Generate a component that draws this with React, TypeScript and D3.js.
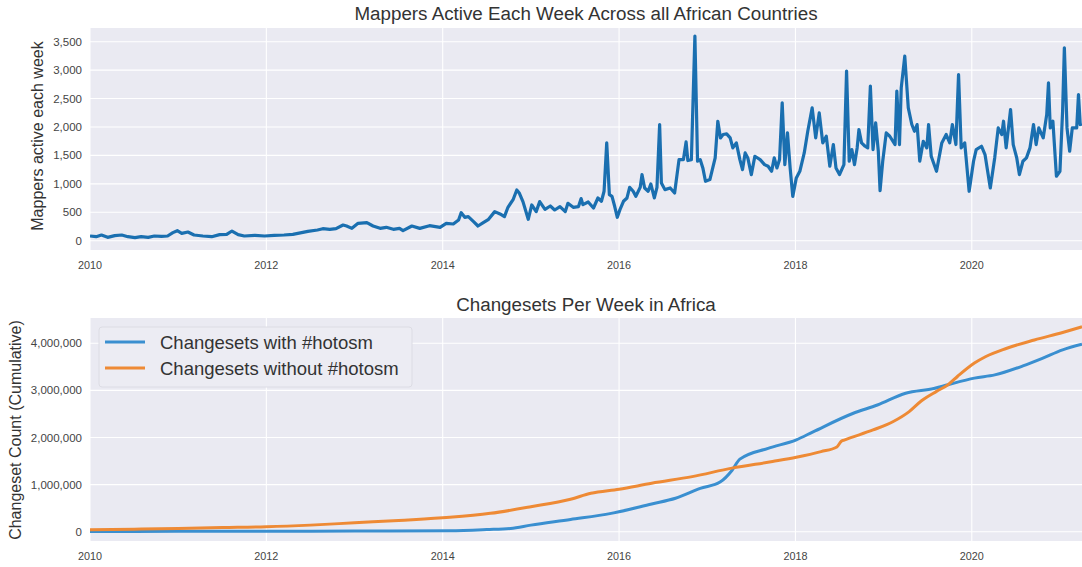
import React, { useEffect, useRef } from "react";
import * as d3 from "d3";

// weekly active mappers (decimal year, mappers)
const mappersActive: [number, number][] = [
  [2010.0, 82], [2010.07, 70], [2010.13, 100], [2010.2, 59], [2010.28, 88], [2010.36, 100],
  [2010.43, 70], [2010.51, 53], [2010.58, 70], [2010.66, 59], [2010.73, 82], [2010.81, 76],
  [2010.88, 82], [2010.94, 141], [2010.99, 176], [2011.04, 129], [2011.11, 153], [2011.18, 100],
  [2011.28, 82], [2011.38, 70], [2011.47, 106], [2011.55, 111], [2011.61, 170], [2011.68, 106],
  [2011.75, 82], [2011.87, 94], [2011.98, 82], [2012.09, 94], [2012.2, 100], [2012.3, 111],
  [2012.4, 141], [2012.47, 164], [2012.58, 188], [2012.64, 211], [2012.72, 200], [2012.79, 211],
  [2012.87, 276], [2012.91, 258], [2012.97, 217], [2013.04, 305], [2013.14, 317], [2013.21, 258],
  [2013.29, 217], [2013.36, 235], [2013.44, 200], [2013.51, 217], [2013.55, 176], [2013.65, 258],
  [2013.74, 217], [2013.85, 264], [2013.97, 235], [2014.04, 305], [2014.12, 293], [2014.18, 364],
  [2014.21, 493], [2014.25, 411], [2014.29, 423], [2014.35, 335], [2014.4, 258], [2014.46, 317],
  [2014.52, 376], [2014.59, 511], [2014.65, 470], [2014.7, 423], [2014.74, 587], [2014.8, 728],
  [2014.84, 892], [2014.87, 834], [2014.91, 687], [2014.97, 376], [2015.01, 628], [2015.06, 511],
  [2015.1, 687], [2015.16, 552], [2015.22, 610], [2015.27, 540], [2015.33, 599], [2015.39, 511],
  [2015.42, 657], [2015.48, 587], [2015.54, 600], [2015.57, 740], [2015.59, 634], [2015.65, 681],
  [2015.71, 575], [2015.76, 751], [2015.8, 693], [2015.83, 869], [2015.86, 1720], [2015.89, 810],
  [2015.92, 780], [2015.95, 605], [2015.98, 411], [2016.01, 546], [2016.05, 693], [2016.09, 751],
  [2016.12, 939], [2016.16, 869], [2016.19, 780], [2016.24, 939], [2016.26, 1162], [2016.29, 927],
  [2016.33, 869], [2016.36, 998], [2016.4, 751], [2016.43, 939], [2016.46, 2043], [2016.48, 1016],
  [2016.52, 898], [2016.58, 927], [2016.63, 839], [2016.68, 1426], [2016.73, 1426], [2016.76, 1738],
  [2016.78, 1409], [2016.82, 1426], [2016.86, 3598], [2016.89, 1397], [2016.92, 1426], [2016.95, 1280],
  [2016.98, 1045], [2017.03, 1074], [2017.09, 1456], [2017.12, 2101], [2017.15, 1808], [2017.18, 1867],
  [2017.22, 1878], [2017.26, 1808], [2017.29, 1632], [2017.33, 1720], [2017.37, 1426], [2017.4, 1250],
  [2017.43, 1544], [2017.46, 1456], [2017.5, 1162], [2017.54, 1485], [2017.6, 1426], [2017.65, 1338],
  [2017.69, 1309], [2017.73, 1221], [2017.76, 1456], [2017.79, 1280], [2017.82, 1426], [2017.85, 2424],
  [2017.88, 1338], [2017.91, 1896], [2017.94, 1280], [2017.97, 780], [2018.01, 1104], [2018.05, 1221],
  [2018.1, 1544], [2018.14, 1925], [2018.19, 2336], [2018.23, 1808], [2018.27, 2248], [2018.31, 1720],
  [2018.35, 1837], [2018.39, 1309], [2018.43, 1691], [2018.46, 1280], [2018.5, 1162], [2018.55, 1338],
  [2018.58, 2982], [2018.61, 1397], [2018.64, 1603], [2018.67, 1338], [2018.7, 1632], [2018.72, 1955],
  [2018.75, 1720], [2018.79, 1661], [2018.82, 1632], [2018.85, 2718], [2018.88, 1603], [2018.91, 2072],
  [2018.94, 1573], [2018.96, 880], [2018.99, 1397], [2019.03, 1896], [2019.07, 1837], [2019.13, 1691],
  [2019.15, 2630], [2019.18, 1691], [2019.2, 2688], [2019.24, 3246], [2019.28, 2336], [2019.32, 2043],
  [2019.35, 1925], [2019.38, 2043], [2019.41, 1397], [2019.45, 1749], [2019.49, 1632], [2019.51, 2043],
  [2019.54, 1485], [2019.6, 1221], [2019.66, 1720], [2019.71, 1867], [2019.75, 1720], [2019.78, 2043],
  [2019.82, 1691], [2019.85, 2923], [2019.88, 1632], [2019.92, 1720], [2019.97, 869], [2020.02, 1397],
  [2020.05, 1603], [2020.11, 1661], [2020.15, 1515], [2020.21, 927], [2020.26, 1456], [2020.3, 1984],
  [2020.34, 1867], [2020.36, 2101], [2020.39, 1632], [2020.44, 2307], [2020.47, 1691], [2020.51, 1456],
  [2020.54, 1162], [2020.58, 1397], [2020.62, 1456], [2020.66, 1632], [2020.7, 2043], [2020.73, 1691],
  [2020.76, 1984], [2020.81, 1808], [2020.85, 2219], [2020.87, 2776], [2020.89, 1984], [2020.92, 2101],
  [2020.96, 1133], [2021.0, 1221], [2021.03, 2278], [2021.05, 3393], [2021.08, 1984], [2021.11, 1573],
  [2021.14, 1984], [2021.19, 1984], [2021.21, 2571], [2021.23, 2043], [2021.25, 2050],
];

// cumulative changesets (decimal year, count)
const withHotosm: [number, number][] = [
  [2010.0, 5000], [2011.0, 8000], [2012.0, 10000], [2013.0, 15000], [2014.08, 20000],
  [2014.5, 45000], [2014.77, 70000], [2015.0, 140000], [2015.45, 260000], [2015.91, 390000],
  [2016.37, 590000], [2016.64, 710000], [2016.92, 920000], [2017.15, 1060000], [2017.28, 1300000],
  [2017.37, 1540000], [2017.69, 1770000], [2018.01, 1950000], [2018.2, 2120000], [2018.65, 2510000],
  [2018.93, 2690000], [2019.25, 2940000], [2019.57, 3040000], [2019.73, 3120000], [2020.03, 3260000],
  [2020.26, 3330000], [2020.58, 3520000], [2020.8, 3680000], [2021.03, 3860000], [2021.25, 3980000],
];

const withoutHotosm: [number, number][] = [
  [2010.0, 40000], [2010.5, 55000], [2011.0, 70000], [2011.5, 88000], [2012.0, 105000],
  [2012.5, 140000], [2013.0, 190000], [2013.5, 240000], [2014.08, 305000], [2014.54, 390000],
  [2015.0, 530000], [2015.45, 690000], [2015.68, 815000], [2016.0, 900000], [2016.37, 1030000],
  [2016.83, 1170000], [2017.28, 1350000], [2017.74, 1490000], [2018.01, 1580000], [2018.29, 1700000],
  [2018.47, 1800000], [2018.52, 1920000], [2018.56, 1950000], [2018.88, 2160000], [2019.11, 2340000],
  [2019.29, 2550000], [2019.43, 2780000], [2019.6, 2980000], [2019.73, 3120000], [2019.84, 3300000],
  [2020.03, 3580000], [2020.16, 3720000], [2020.39, 3890000], [2020.71, 4070000], [2021.03, 4230000],
  [2021.25, 4350000],
];

const yearTicks = [2010, 2012, 2014, 2016, 2018, 2020];
const mapperTicks = [0, 500, 1000, 1500, 2000, 2500, 3000, 3500];
const changesetTicks = [0, 1000000, 2000000, 3000000, 4000000];
const legendLabels = ["Changesets with #hotosm", "Changesets without #hotosm"];

const FONT = "'Liberation Sans', Arial, sans-serif";

const App = () => {
  const ref = useRef<SVGSVGElement>(null);

  useEffect(() => {
    const svg = d3.select(ref.current);
    svg.selectAll("*").remove();

    const left = 90, right = 1082;
    const x = d3.scaleLinear().domain([2010, 2021.25]).range([left, right]);

    const panel = (top: number, bottom: number, yDomain: [number, number], ticks: number[], id: string) => {
      const y = d3.scaleLinear().domain(yDomain).range([bottom, top]);
      const g = svg.append("g");
      g.append("rect")
        .attr("x", left).attr("y", top)
        .attr("width", right - left).attr("height", bottom - top)
        .attr("fill", "#eaeaf2");
      g.append("clipPath").attr("id", id)
        .append("rect").attr("x", left).attr("y", top)
        .attr("width", right - left).attr("height", bottom - top);
      // grid
      g.selectAll(".hg").data(ticks).enter().append("line")
        .attr("x1", left).attr("x2", right)
        .attr("y1", d => y(d)).attr("y2", d => y(d))
        .attr("stroke", "#fff").attr("stroke-width", 1.1);
      g.selectAll(".vg").data(yearTicks).enter().append("line")
        .attr("x1", d => x(d)).attr("x2", d => x(d))
        .attr("y1", top).attr("y2", bottom)
        .attr("stroke", "#fff").attr("stroke-width", 1.1);
      // tick labels
      g.selectAll(".yl").data(ticks).enter().append("text")
        .attr("x", 82).attr("y", d => y(d)).attr("dy", "0.35em")
        .attr("text-anchor", "end")
        .style("font-family", FONT).style("font-size", "11.5px").attr("fill", "#444")
        .text(d => d3.format(",")(d));
      g.selectAll(".xl").data(yearTicks).enter().append("text")
        .attr("x", d => x(d)).attr("y", bottom + 19)
        .attr("text-anchor", "middle")
        .style("font-family", FONT).style("font-size", "10.8px").attr("fill", "#444")
        .text(d => String(d));
      return { g, y };
    };

    // top: mappers active
    const top = panel(28, 250, [-164, 3741], mapperTicks, "clipTop");
    top.g.append("path")
      .datum(mappersActive)
      .attr("clip-path", "url(#clipTop)")
      .attr("fill", "none")
      .attr("stroke", "#1a6fb0")
      .attr("stroke-width", 3.2)
      .attr("stroke-linejoin", "round")
      .attr("d", d3.line<[number, number]>().x(d => x(d[0])).y(d => top.y(d[1])));

    svg.append("text")
      .attr("x", 586).attr("y", 20)
      .attr("text-anchor", "middle")
      .style("font-family", FONT).style("font-size", "18.8px").attr("fill", "#333")
      .text("Mappers Active Each Week Across all African Countries");
    svg.append("text")
      .attr("transform", "translate(43,136) rotate(-90)")
      .attr("text-anchor", "middle")
      .style("font-family", FONT).style("font-size", "16px").attr("fill", "#333")
      .text("Mappers active each week");

    // bottom: cumulative changesets
    const bot = panel(318, 541, [-197000, 4537000], changesetTicks, "clipBot");
    const line = d3.line<[number, number]>()
      .curve(d3.curveMonotoneX)
      .x(d => x(d[0])).y(d => bot.y(d[1]));
    bot.g.append("path").datum(withHotosm)
      .attr("clip-path", "url(#clipBot)")
      .attr("fill", "none").attr("stroke", "#3a8fd0").attr("stroke-width", 3)
      .attr("d", line);
    bot.g.append("path").datum(withoutHotosm)
      .attr("clip-path", "url(#clipBot)")
      .attr("fill", "none").attr("stroke", "#ee8a35").attr("stroke-width", 3)
      .attr("d", line);

    svg.append("text")
      .attr("x", 586).attr("y", 311)
      .attr("text-anchor", "middle")
      .style("font-family", FONT).style("font-size", "18.8px").attr("fill", "#333")
      .text("Changesets Per Week in Africa");
    svg.append("text")
      .attr("transform", "translate(21,430) rotate(-90)")
      .attr("text-anchor", "middle")
      .style("font-family", FONT).style("font-size", "16px").attr("fill", "#333")
      .text("Changeset Count (Cumulative)");

    // legend
    const legend = svg.append("g");
    legend.append("rect")
      .attr("x", 99).attr("y", 327).attr("width", 313).attr("height", 60)
      .attr("rx", 3)
      .attr("fill", "#ececf3").attr("stroke", "#dcdce4");
    const colors = ["#3a8fd0", "#ee8a35"];
    legendLabels.forEach((label, i) => {
      const cy = 342 + i * 26;
      legend.append("line")
        .attr("x1", 105).attr("x2", 145).attr("y1", cy).attr("y2", cy)
        .attr("stroke", colors[i]).attr("stroke-width", 3);
      legend.append("text")
        .attr("x", 160).attr("y", cy + 6.5)
        .style("font-family", FONT).style("font-size", "18.5px").attr("fill", "#333")
        .text(label);
    });
  }, []);

  return (
    <svg
      ref={ref}
      width={1082}
      height={567}
      style={{ position: "absolute", left: 0, top: 0, background: "#fff" }}
    />
  );
};

export default App;
